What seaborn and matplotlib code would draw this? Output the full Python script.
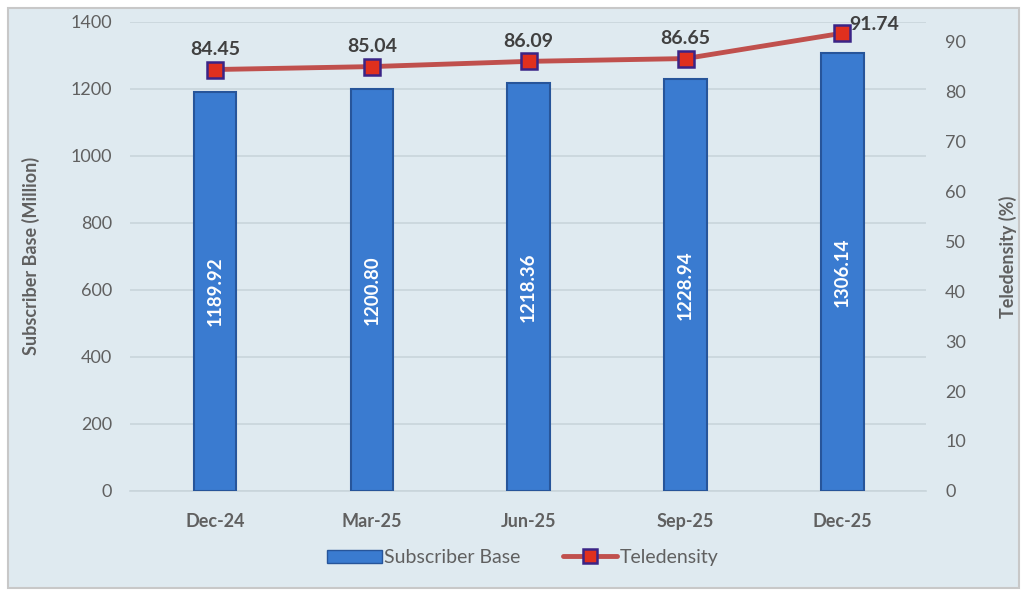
import numpy as np
import pandas as pd
import matplotlib.pyplot as plt
import seaborn as sns
from matplotlib.patches import Rectangle
from matplotlib.lines import Line2D

quarters = ["Dec-24", "Mar-25", "Jun-25", "Sep-25", "Dec-25"]
subscribers = [1189.92, 1200.80, 1218.36, 1228.94, 1306.14]
teledensity = [84.45, 85.04, 86.09, 86.65, 91.74]

df = pd.DataFrame({"quarter": quarters, "subs": subscribers, "tele": teledensity})

sns.set_theme(style="white")
plt.rcParams["font.family"] = ["Lato", "DejaVu Sans"]

bg = "#dfeaf0"
grey = "#606060"
bar_col = "#3a7bd0"
line_col = "#c0504d"

fig = plt.figure(figsize=(10.25, 5.92), dpi=100)
fig.patch.set_facecolor("white")
fig.patches.append(Rectangle((0.008, 0.007), 0.986, 0.98, transform=fig.transFigure,
                             facecolor=bg, edgecolor="#c8c8c8", lw=1.5, zorder=-10))

ax = fig.add_axes([0.127, 0.171, 0.776, 0.792])
ax.set_facecolor("none")

sns.barplot(data=df, x="quarter", y="subs", ax=ax, color=bar_col, width=0.27,
            saturation=1, edgecolor="#27559a", linewidth=1.5, zorder=3)
ax.set_ylim(0, 1400)
ax.set_yticks(range(0, 1401, 200))
ax.yaxis.grid(True, color="#c9d5db", lw=1.2)
ax.set_axisbelow(True)
for s in ["left", "right", "top"]:
    ax.spines[s].set_visible(False)
ax.spines["bottom"].set_color("#c9d5db")
ax.spines["bottom"].set_linewidth(1.2)
ax.tick_params(axis="y", length=0, colors=grey, labelsize=13, pad=13)
ax.tick_params(axis="x", length=0, colors=grey, labelsize=13, pad=16)
for lbl in ax.get_xticklabels():
    lbl.set_fontweight("bold")
ax.set_xlabel("")
ax.set_ylabel("Subscriber Base (Million)", fontsize=13, fontweight="bold", color=grey, labelpad=22)

for i, v in enumerate(subscribers):
    ax.text(i, v / 2, f"{v:.2f}", rotation=90, ha="center", va="center",
            color="white", fontsize=13.5, fontweight="bold", zorder=5)

ax2 = ax.twinx()
sns.pointplot(x=quarters, y=teledensity, ax=ax2, color=line_col, markers="s",
              markersize=11, markerfacecolor="#e0301e", markeredgecolor="#3b2486",
              markeredgewidth=1.8, linewidth=3.5, zorder=6)
ax2.set_ylim(0, 94)
ax2.set_yticks(range(0, 91, 10))
for s in ["left", "right", "top", "bottom"]:
    ax2.spines[s].set_visible(False)
ax2.tick_params(axis="y", length=0, colors=grey, labelsize=13, pad=14)
ax2.set_ylabel("Teledensity (%)", fontsize=13, fontweight="bold", color=grey, labelpad=24)
ax.set_xlim(-0.54, 4.53)
ax2.set_xlim(-0.54, 4.53)

for i, v in enumerate(teledensity):
    if i < len(teledensity) - 1:
        ax2.annotate(f"{v:.2f}", (i, v), xytext=(0, 8), textcoords="offset points",
                     ha="center", va="bottom", fontsize=14, fontweight="bold",
                     color="#404040", zorder=7)
    else:
        ax2.annotate(f"{v:.2f}", (i, v), xytext=(5, 0), textcoords="offset points",
                     ha="left", va="bottom", fontsize=14, fontweight="bold",
                     color="#404040", zorder=7)

handles = [Rectangle((0, 0), 1, 1, facecolor=bar_col, edgecolor="#27559a"),
           Line2D([0], [0], color=line_col, lw=3.5, marker="s", markersize=10,
                  markerfacecolor="#e0301e", markeredgecolor="#3b2486", markeredgewidth=1.8)]
leg = fig.legend(handles, ["Subscriber Base", "Teledensity"], loc="center",
                 bbox_to_anchor=(0.51, 0.058), ncol=2, frameon=False, fontsize=14,
                 handlelength=2.8, columnspacing=2.2, handletextpad=0.1)
for t in leg.get_texts():
    t.set_color(grey)

fig.savefig("out.png", dpi=100, facecolor=fig.get_facecolor())
